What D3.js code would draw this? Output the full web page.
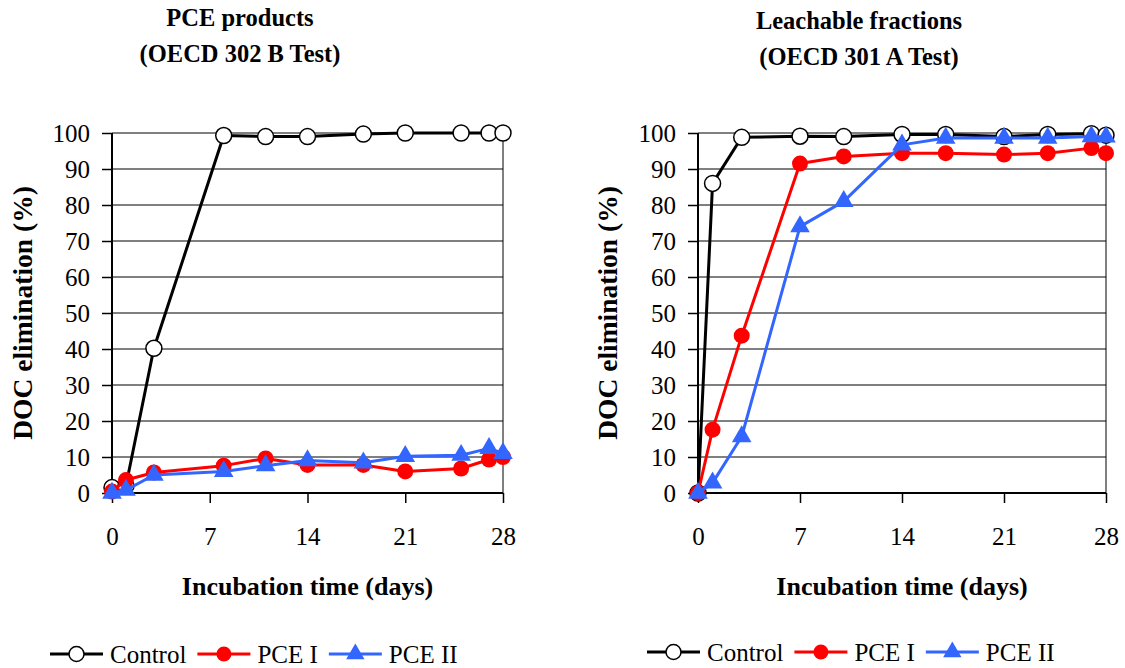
<!DOCTYPE html>
<html>
<head>
<meta charset="utf-8">
<script src="https://cdn.jsdelivr.net/npm/d3@7"></script>
</head>
<body style="margin:0; background:#fff">
<svg id="chart" width="1125" height="668"></svg>
<script>
// data
var daysA = [0, 1, 3, 8, 11, 14, 18, 21, 25, 27, 28];
var controlA = [1.5, 2, 40.2, 99.3, 99, 99, 99.7, 100, 100, 100, 100];
var pce1A = [0.4, 3.6, 5.7, 7.6, 9.6, 7.8, 7.8, 6, 6.8, 9.3, 10];
var pce2A = [0, 0.8, 5, 6, 7.6, 9, 8.4, 10.2, 10.5, 12.4, 11];

var daysB = [0, 1, 3, 7, 10, 14, 17, 21, 24, 27, 28];
var controlB = [0, 86, 98.8, 99.1, 99, 99.6, 99.6, 99, 99.6, 99.8, 99.4];
var pce1B = [0, 17.6, 43.7, 91.5, 93.5, 94.4, 94.4, 94, 94.4, 95.8, 94.4];
var pce2B = [0, 2.8, 15.7, 74, 81, 96.7, 98.6, 98.6, 98.6, 99, 98.9];

var xTicks = [0, 7, 14, 21, 28];
var yTicks = [0, 10, 20, 30, 40, 50, 60, 70, 80, 90, 100];
var seriesNames = ["Control", "PCE I", "PCE II"];
var colors = ["#000000", "#ff0000", "#3366ff"];

var serif = "'Liberation Serif', 'Times New Roman', serif";
var svg = d3.select("#chart");

function label(g, size, bold) {
  return g.append("text")
    .style("font-family", serif)
    .style("font-size", size + "px")
    .style("font-weight", bold ? "bold" : "normal")
    .attr("fill", "#000");
}

function drawPanel(p) {
  var x = d3.scaleLinear().domain([0, 28]).range([p.left, p.right]);
  var y = d3.scaleLinear().domain([0, 100]).range([493, 133]);

  var g = svg.append("g");

  // titles
  label(g, 24.5, true).attr("x", p.titleX).attr("y", p.titleY)
    .attr("text-anchor", "middle").text(p.title1);
  label(g, 24.5, true).attr("x", p.titleX).attr("y", p.titleY + 36)
    .attr("text-anchor", "middle").text(p.title2);

  // gridlines
  g.append("g").selectAll("line").data(yTicks.slice(1)).enter().append("line")
    .attr("x1", p.left).attr("x2", p.right)
    .attr("y1", function(d) { return y(d); }).attr("y2", function(d) { return y(d); })
    .attr("stroke", "#000").attr("stroke-width", 1);
  g.append("line").attr("x1", p.right).attr("x2", p.right)
    .attr("y1", y(100)).attr("y2", y(0)).attr("stroke", "#000").attr("stroke-width", 1);

  var yAxis = g.append("g")
    .attr("transform", "translate(" + p.left + ",0)")
    .call(d3.axisLeft(y).tickValues(yTicks).tickSize(10).tickPadding(12));
  var xAxis = g.append("g")
    .attr("transform", "translate(0,493)")
    .call(d3.axisBottom(x).tickValues(xTicks).tickSize(10).tickPadding(24));
  [yAxis, xAxis].forEach(function(a) {
    a.select(".domain").attr("stroke", "#000").attr("stroke-width", 2);
    a.selectAll(".tick line").attr("stroke", "#000").attr("stroke-width", 1.5);
    a.selectAll(".tick text").attr("fill", "#000")
      .style("font-family", serif).style("font-size", "25px");
  });
  yAxis.select(".domain").attr("d", "M0," + y(0) + "V" + y(100));
  xAxis.select(".domain").attr("d", "M" + p.left + ",0H" + p.right);

  // axis titles
  label(g, 27.5, true)
    .attr("transform", "translate(" + p.yLabelX + ",313) rotate(-90)")
    .attr("text-anchor", "middle").attr("dy", "0.35em")
    .text("DOC elimination (%)");
  label(g, 26, true)
    .attr("x", (p.left + p.right) / 2).attr("y", 595)
    .attr("text-anchor", "middle")
    .text("Incubation time (days)");

  var line = d3.line()
    .x(function(d) { return x(d[0]); })
    .y(function(d) { return y(d[1]); });

  p.series.forEach(function(vals, i) {
    var pts = p.days.map(function(d, k) { return [d, vals[k]]; });
    g.append("path").datum(pts)
      .attr("fill", "none").attr("stroke", colors[i]).attr("stroke-width", 3)
      .attr("stroke-linejoin", "round")
      .attr("d", line);
    drawMarkers(g, pts.map(function(d) { return [x(d[0]), y(d[1])]; }), i, 8);
  });

  // legend
  var lx = p.legendX, ly = p.legendY;
  seriesNames.forEach(function(name, i) {
    g.append("line").attr("x1", lx).attr("x2", lx + 53)
      .attr("y1", ly).attr("y2", ly)
      .attr("stroke", colors[i]).attr("stroke-width", 3);
    drawMarkers(g, [[lx + 26.5, ly]], i, 7.5);
    var t = label(g, 25, false).attr("x", lx + 60).attr("y", ly + 9).text(name);
    lx = lx + 60 + t.node().getComputedTextLength() + 11;
  });
}

function drawMarkers(g, pts, i, r) {
  if (i === 2) {
    var tri = d3.symbol().type(d3.symbolTriangle).size(r * r * 2.6);
    g.selectAll(null).data(pts).enter().append("path")
      .attr("d", tri)
      .attr("transform", function(d) { return "translate(" + d[0] + "," + d[1] + ")"; })
      .attr("fill", colors[2]);
  } else {
    g.selectAll(null).data(pts).enter().append("circle")
      .attr("cx", function(d) { return d[0]; })
      .attr("cy", function(d) { return d[1]; })
      .attr("r", r)
      .attr("fill", i === 0 ? "#fff" : colors[1])
      .attr("stroke", i === 0 ? "#000" : "none")
      .attr("stroke-width", 1.5);
  }
}

drawPanel({
  left: 112, right: 503, titleX: 240, titleY: 26, yLabelX: 22,
  title1: "PCE products", title2: "(OECD 302 B Test)",
  days: daysA, series: [controlA, pce1A, pce2A],
  legendX: 50, legendY: 654
});
drawPanel({
  left: 698, right: 1106, titleX: 859, titleY: 29, yLabelX: 607,
  title1: "Leachable fractions", title2: "(OECD 301 A Test)",
  days: daysB, series: [controlB, pce1B, pce2B],
  legendX: 647, legendY: 652
});
</script>
</body>
</html>
